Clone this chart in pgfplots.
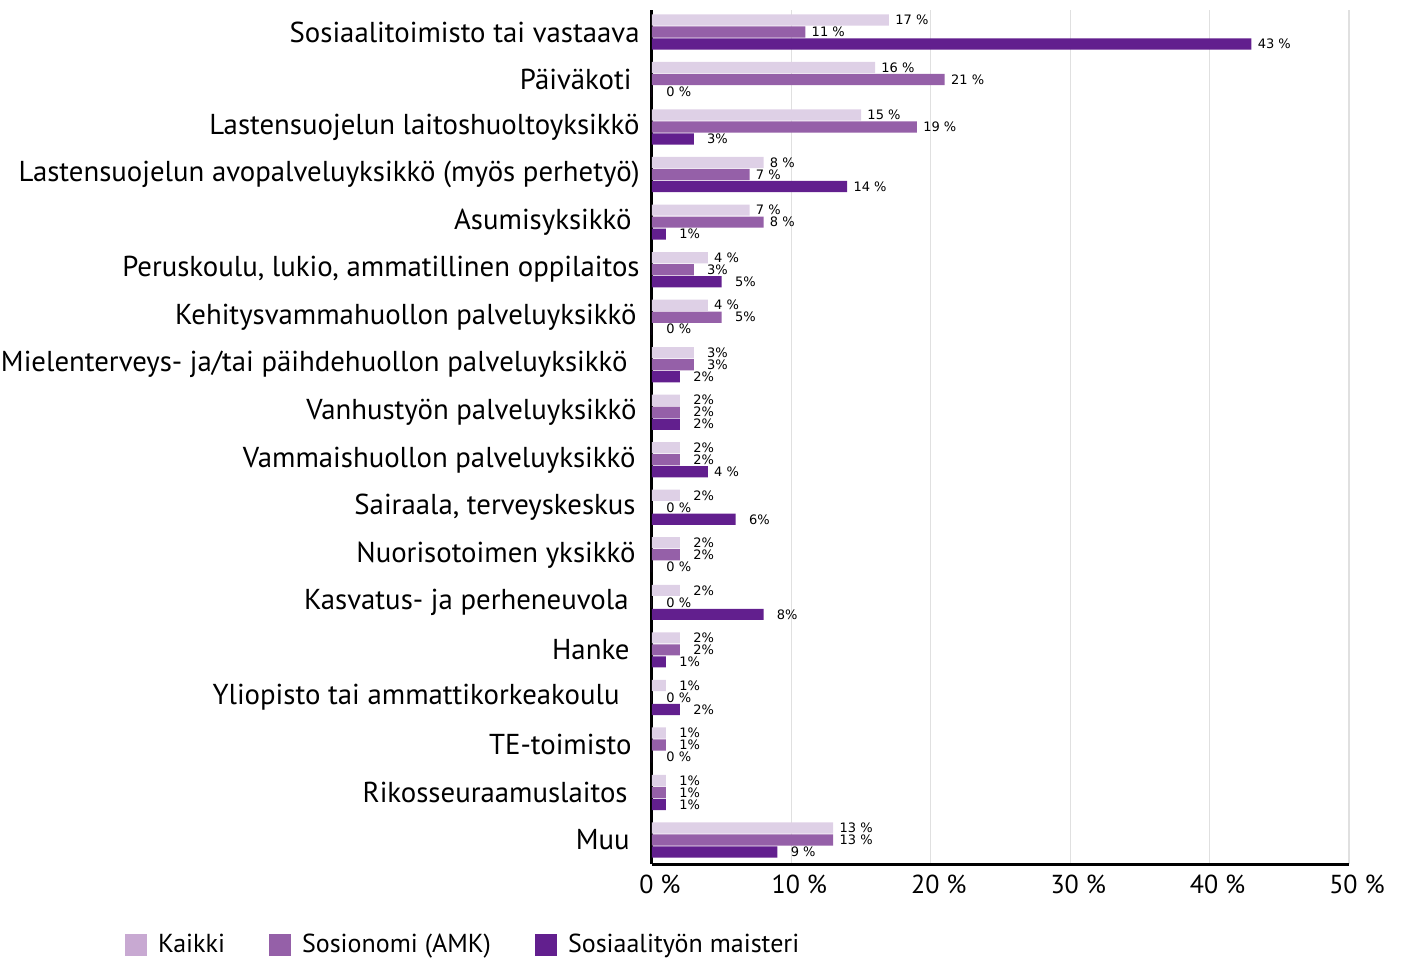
\documentclass[border=0pt]{standalone}
\usepackage{pgfplots}
\pgfplotsset{compat=1.18}
\usepackage{fontspec}
\setmainfont{PT Sans}
\newfontfamily\dv{DejaVu Sans}

\definecolor{kaikki}{HTML}{DED0E6}
\definecolor{kaikkileg}{HTML}{C8A9D2}
\definecolor{sosio}{HTML}{9560A8}
\definecolor{maist}{HTML}{621F8E}

\begin{document}
\begin{tikzpicture}
\begin{axis}[
    name=ax,
    scale only axis,
    width=348.5pt, height=427pt,
    xbar, bar width=5.6pt,
    xmin=0, xmax=50, ymin=-0.505, ymax=17.463,
    xtick={0,10,...,50},
    xticklabels={0 \%,10 \%,20 \%,30 \%,40 \%,50 \%},
    ytick={0,...,17},
    yticklabels={Muu\kern5pt, Rikosseuraamuslaitos\kern6pt, TE-toimisto\kern4pt,
      Yliopisto tai ammattikorkeakoulu\kern10pt, Hanke\kern5pt,
      Kasvatus- ja perheneuvola\kern5.5pt, Nuorisotoimen yksikkö\kern2pt,
      {Sairaala, terveyskeskus\kern2pt}, Vammaishuollon palveluyksikkö\kern2pt,
      Vanhustyön palveluyksikkö\kern1.5pt,
      Mielenterveys- ja/tai päihdehuollon palveluyksikkö\kern6pt,
      Kehitysvammahuollon palveluyksikkö\kern1.5pt,
      {Peruskoulu, lukio, ammatillinen oppilaitos}, Asumisyksikkö\kern4pt,
      Lastensuojelun avopalveluyksikkö (myös perhetyö),
      Lastensuojelun laitoshuoltoyksikkö, Päiväkoti\kern4pt,
      Sosiaalitoimisto tai vastaava},
    major tick length=0pt,
    axis x line*=bottom, axis y line*=left,
    axis line style={-, line width=1.5pt, black},
    xmajorgrids, grid style={draw=black!12, line width=0.6pt},
    yticklabel style={font=\fontsize{14.4}{16}\selectfont, inner sep=0pt, xshift=-6pt},
    xticklabel style={font=\fontsize{13}{15}\selectfont, xshift=4pt, yshift=-2pt},
    nodes near coords,
    point meta=explicit symbolic,
    every node near coord/.append style={font=\dv\fontsize{6.5}{7}\selectfont,
      anchor=west, inner sep=0pt, xshift=3pt, text=black},
    legend columns=3,
    legend style={draw=none, at={(rel axis cs:-0.765,-0.095)}, anchor=west,
      font=\fontsize{13}{15}\selectfont,
      /tikz/every odd column/.append style={column sep=3.5pt},
      /tikz/every even column/.append style={column sep=20pt}},
    legend image code/.code={\fill[#1, draw=none] (0pt,-5.5pt) rectangle (11pt,5.5pt);},
]
\addlegendimage{fill=kaikkileg, draw=none}
\addlegendentry{Kaikki}
\addlegendimage{fill=sosio, draw=none}
\addlegendentry{Sosionomi (AMK)}
\addlegendimage{fill=maist, draw=none}
\addlegendentry{Sosiaalityön maisteri}

\addplot[fill=kaikki, draw=none, bar shift=6pt, forget plot] coordinates {
  (17,17) [17 \%] (16,16) [16 \%] (15,15) [15 \%] (8,14) [8 \%] (7,13) [7 \%]
  (4,12) [4 \%] (4,11) [4 \%] (3,10) [\hspace{3.5pt}3\%] (2,9) [\hspace{3.5pt}2\%]
  (2,8) [\hspace{3.5pt}2\%] (2,7) [\hspace{3.5pt}2\%] (2,6) [\hspace{3.5pt}2\%]
  (2,5) [\hspace{3.5pt}2\%] (2,4) [\hspace{3.5pt}2\%] (1,3) [\hspace{3.5pt}1\%]
  (1,2) [\hspace{3.5pt}1\%] (1,1) [\hspace{3.5pt}1\%] (13,0) [13 \%]
};
\addplot[fill=sosio, draw=none, bar shift=0pt, forget plot] coordinates {
  (11,17) [11 \%] (21,16) [21 \%] (19,15) [19 \%] (7,14) [7 \%] (8,13) [8 \%]
  (3,12) [\hspace{3.5pt}3\%] (5,11) [\hspace{3.5pt}5\%] (3,10) [\hspace{3.5pt}3\%] (2,9) [\hspace{3.5pt}2\%]
  (2,8) [\hspace{3.5pt}2\%] (0,7) [\hspace{4pt}0 \%] (2,6) [\hspace{3.5pt}2\%]
  (0,5) [\hspace{4pt}0 \%] (2,4) [\hspace{3.5pt}2\%] (0,3) [\hspace{4pt}0 \%]
  (1,2) [\hspace{3.5pt}1\%] (1,1) [\hspace{3.5pt}1\%] (13,0) [13 \%]
};
\addplot[fill=maist, draw=none, bar shift=-6pt, forget plot] coordinates {
  (43,17) [43 \%] (0,16) [\hspace{4pt}0 \%] (3,15) [\hspace{3.5pt}3\%] (14,14) [14 \%] (1,13) [\hspace{3.5pt}1\%]
  (5,12) [\hspace{3.5pt}5\%] (0,11) [\hspace{4pt}0 \%] (2,10) [\hspace{3.5pt}2\%] (2,9) [\hspace{3.5pt}2\%]
  (4,8) [4 \%] (6,7) [\hspace{3.5pt}6\%] (0,6) [\hspace{4pt}0 \%]
  (8,5) [\hspace{3.5pt}8\%] (1,4) [\hspace{3.5pt}1\%] (2,3) [\hspace{3.5pt}2\%]
  (0,2) [\hspace{4pt}0 \%] (1,1) [\hspace{3.5pt}1\%] (9,0) [\hspace{3.5pt}9 \%]
};
\end{axis}
\pgfresetboundingbox
\path ([xshift=-326pt,yshift=-48pt]ax.south west) rectangle ([xshift=375pt,yshift=432pt]ax.south west);
\end{tikzpicture}
\end{document}
